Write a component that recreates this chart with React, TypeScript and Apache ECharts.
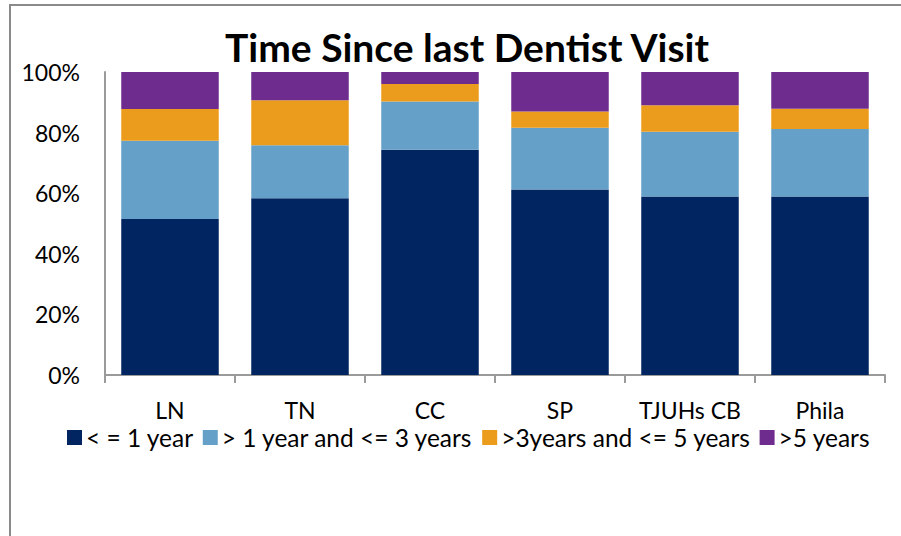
import React, { useEffect, useRef } from "react";
import * as echarts from "echarts";

const categories = ["LN", "TN", "CC", "SP", "TJUHs CB", "Phila"];
const seriesNames = [
  "< = 1 year",
  "> 1 year and <= 3 years",
  ">3years and <= 5 years",
  ">5 years",
];
const lessThan1 = [51.5, 58.3, 74.3, 61.2, 58.9, 58.9];
const oneTo3 = [25.8, 17.5, 16.0, 20.4, 21.4, 22.3];
const threeTo5 = [10.5, 14.9, 5.7, 5.4, 8.7, 6.7];
const over5 = [12.2, 9.3, 4.0, 13.0, 11.0, 12.1];
const colors = ["#002561", "#65A0C8", "#EC9C1C", "#6F2C8F"];
const yTicks = [0, 20, 40, 60, 80, 100];

const FONT = "Lato, 'Open Sans', sans-serif";

export default function App() {
  const ref = useRef<HTMLDivElement>(null);
  useEffect(() => {
    if (!ref.current) return;
    const chart = echarts.init(ref.current, undefined, { renderer: "svg" });
    const data = [lessThan1, oneTo3, threeTo5, over5];
    chart.setOption({
      animation: false,
      backgroundColor: "#ffffff",
      textStyle: { fontFamily: FONT },
      title: {
        text: "Time Since last Dentist Visit",
        left: 462,
        textAlign: "center",
        top: 22,
        textStyle: { fontFamily: FONT, fontWeight: "bold", fontSize: 39, color: "#000" },
      },
      graphic: [
        {
          type: "rect",
          shape: { x: 10, y: 5, width: 1000, height: 1000 },
          style: { fill: "none", stroke: "#8a8a8a", lineWidth: 2 },
          silent: true,
        },
      ],
      legend: {
        data: seriesNames,
        left: 67,
        top: 425,
        padding: 0,
        itemWidth: 15,
        itemHeight: 15,
        itemGap: 9,
        icon: "rect",
        textStyle: {
          fontFamily: FONT,
          fontSize: 24.5,
          lineHeight: 18,
          color: "#000",
          padding: [0, 0, 0, -1],
        },
      },
      grid: { left: 105, right: 16, top: 72, bottom: 161, containLabel: false },
      xAxis: {
        type: "category",
        data: categories,
        axisLine: { lineStyle: { color: "#9a9a9a", width: 2 } },
        axisTick: { show: true, interval: 0, length: 8, lineStyle: { color: "#9a9a9a", width: 2 } },
        axisLabel: {
          interval: 0,
          fontFamily: FONT,
          fontSize: 23,
          lineHeight: 18,
          color: "#000",
          margin: 26,
        },
      },
      yAxis: {
        type: "value",
        min: yTicks[0],
        max: yTicks[yTicks.length - 1],
        interval: 20,
        axisLine: { show: true, lineStyle: { color: "#9a9a9a", width: 2 } },
        axisTick: { show: false },
        splitLine: { show: false },
        axisLabel: {
          fontFamily: FONT,
          fontSize: 23,
          color: "#000",
          margin: 25,
          formatter: "{value}%",
        },
      },
      series: seriesNames.map((name, i) => ({
        name,
        type: "bar",
        stack: "total",
        barWidth: "75%",
        data: data[i],
        itemStyle: { color: colors[i] },
      })),
    });
    return () => chart.dispose();
  }, []);
  return <div ref={ref} style={{ width: 901, height: 536, position: "absolute", left: 0, top: 0 }} />;
}
